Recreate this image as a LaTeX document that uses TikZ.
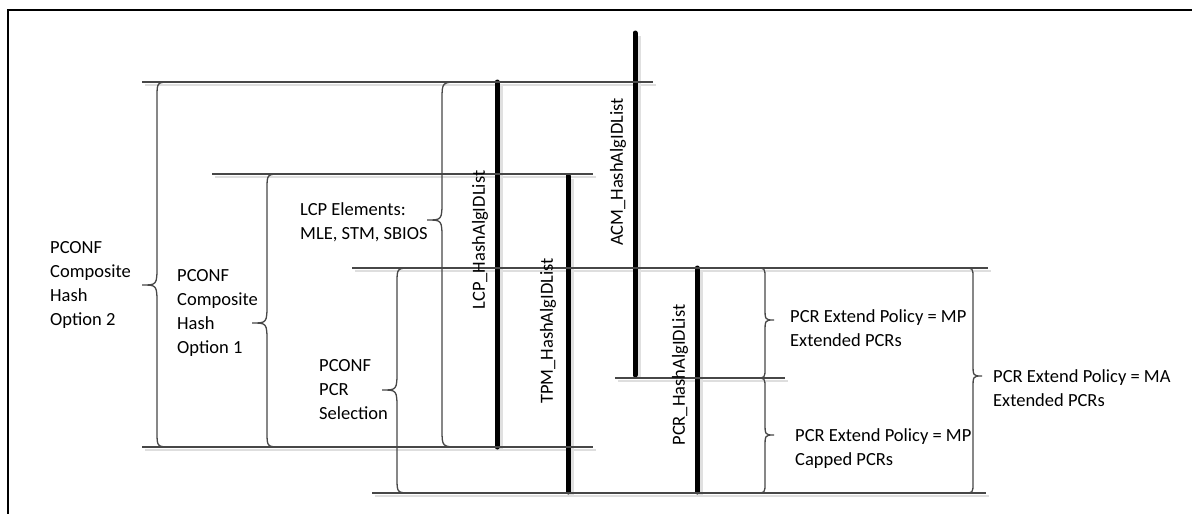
\documentclass[tikz,border=0pt]{standalone}
\usepackage{fontspec}
\setmainfont{Carlito}
\begin{document}
\begin{tikzpicture}[x=1pt,y=-1pt,
  hline/.style={draw=black!72,line width=1.4pt},
  hshadow/.style={draw=black!13,line width=2.5pt},
  thick bar/.style={draw=black,line width=5pt,line cap=round},
  vshadow/.style={draw=black!12,line width=4pt},
  brc/.style={draw=black!72,line width=1.3pt},
  lbl/.style={font=\fontsize{18.5}{24}\selectfont,align=left,inner sep=0pt,anchor=west},
  vlbl/.style={font=\fontsize{18.5}{24}\selectfont,inner sep=0pt,rotate=90},
  frame/.style={draw=black,line width=2.6pt}
]
\useasboundingbox (0,0) rectangle (1192,514);
\fill[white] (0,0) rectangle (1192,514);
% frame (cropped)
\coordinate (fTL) at (8,10);
\coordinate (fTR) at (1192,10);
\coordinate (fBL) at (8,514);
\draw[frame] (fBL) -- (fTL) -- (fTR);

% brace commands
\newcommand{\braceLeft}[5]{% xv, ytop, ybot, ymid, r
  \draw[brc] (#1+#5,#2) .. controls (#1,#2) .. (#1,#2+#5) -- (#1,#4-20)
    .. controls (#1,#4) .. (#1-15,#4) .. controls (#1,#4) .. (#1,#4+20)
    -- (#1,#3-#5) .. controls (#1,#3) .. (#1+#5,#3);}
\newcommand{\braceRight}[4]{% xv, ytop, ybot, ymid
  \draw[brc] (#1-9,#2) .. controls (#1,#2) .. (#1,#2+10) -- (#1,#4-13)
    .. controls (#1,#4) .. (#1+9,#4) .. controls (#1,#4) .. (#1,#4+13)
    -- (#1,#3-10) .. controls (#1,#3) .. (#1-9,#3);}

% horizontal line end points
\coordinate (h1a) at (142,82);  \coordinate (h1b) at (653,82);
\coordinate (h2a) at (212,174); \coordinate (h2b) at (593,174);
\coordinate (h3a) at (352,268); \coordinate (h3b) at (988,268);
\coordinate (h4a) at (142,447); \coordinate (h4b) at (593,447);
\coordinate (h5a) at (372,493); \coordinate (h5b) at (986,493);
\coordinate (h6a) at (615,378); \coordinate (h6b) at (785,378);

% shadows
\foreach \a/\b in {h1a/h1b,h2a/h2b,h3a/h3b,h4a/h4b,h5a/h5b,h6a/h6b}{
  \draw[hshadow] ([shift={(3,3)}]\a) -- ([shift={(3,3)}]\b);}

% vertical bar end points
\coordinate (lcpT) at (497,82);  \coordinate (lcpB) at (497,447);
\coordinate (tpmT) at (568,176); \coordinate (tpmB) at (568,492);
\coordinate (acmT) at (635,33);  \coordinate (acmB) at (635,375);
\coordinate (pcrT) at (697,268); \coordinate (pcrB) at (697,492);
\foreach \a/\b in {lcpT/lcpB,tpmT/tpmB,acmT/acmB,pcrT/pcrB}{
  \draw[vshadow] ([shift={(4,3)}]\a) -- ([shift={(4,3)}]\b);}
\foreach \a/\b in {lcpT/lcpB,tpmT/tpmB,acmT/acmB,pcrT/pcrB}{
  \draw[thick bar] (\a) -- (\b);}

% horizontal lines
\foreach \a/\b in {h1a/h1b,h2a/h2b,h3a/h3b,h4a/h4b,h5a/h5b,h6a/h6b}{
  \draw[hline] (\a) -- (\b);}

% braces
\braceLeft{157}{82}{447}{285}{15}
\braceLeft{267}{174}{447}{323}{15}
\braceLeft{397}{268}{493}{390}{15}
\braceLeft{442}{82}{447}{220}{18}
\braceRight{765}{268}{378}{320}
\braceRight{765}{378}{493}{435}
\braceRight{973}{268}{493}{376}

% labels
\node[lbl] (opt2) at (50,285) {PCONF\\Composite\\Hash\\Option 2};
\node[lbl] (opt1) at (177,313) {PCONF\\Composite\\Hash\\Option 1};
\node[lbl] (lcpel) at (300,222) {LCP Elements:\\MLE, STM, SBIOS};
\node[lbl] (pcrsel) at (319,390) {PCONF\\PCR\\Selection};
\node[lbl] (mpext) at (790,328) {PCR Extend Policy = MP\\Extended PCRs};
\node[lbl] (mpcap) at (795,449) {PCR Extend Policy = MP\\Capped PCRs};
\node[lbl] (maext) at (993,388) {PCR Extend Policy = MA\\Extended PCRs};

\node[vlbl] (lcpl) at (480,240) {LCP\_HashAlgIDList};
\node[vlbl] (tpml) at (548,331) {TPM\_HashAlgIDList};
\node[vlbl] (acml) at (618,172) {ACM\_HashAlgIDList};
\node[vlbl] (pcrl) at (680,375) {PCR\_HashAlgIDList};
\end{tikzpicture}
\end{document}
